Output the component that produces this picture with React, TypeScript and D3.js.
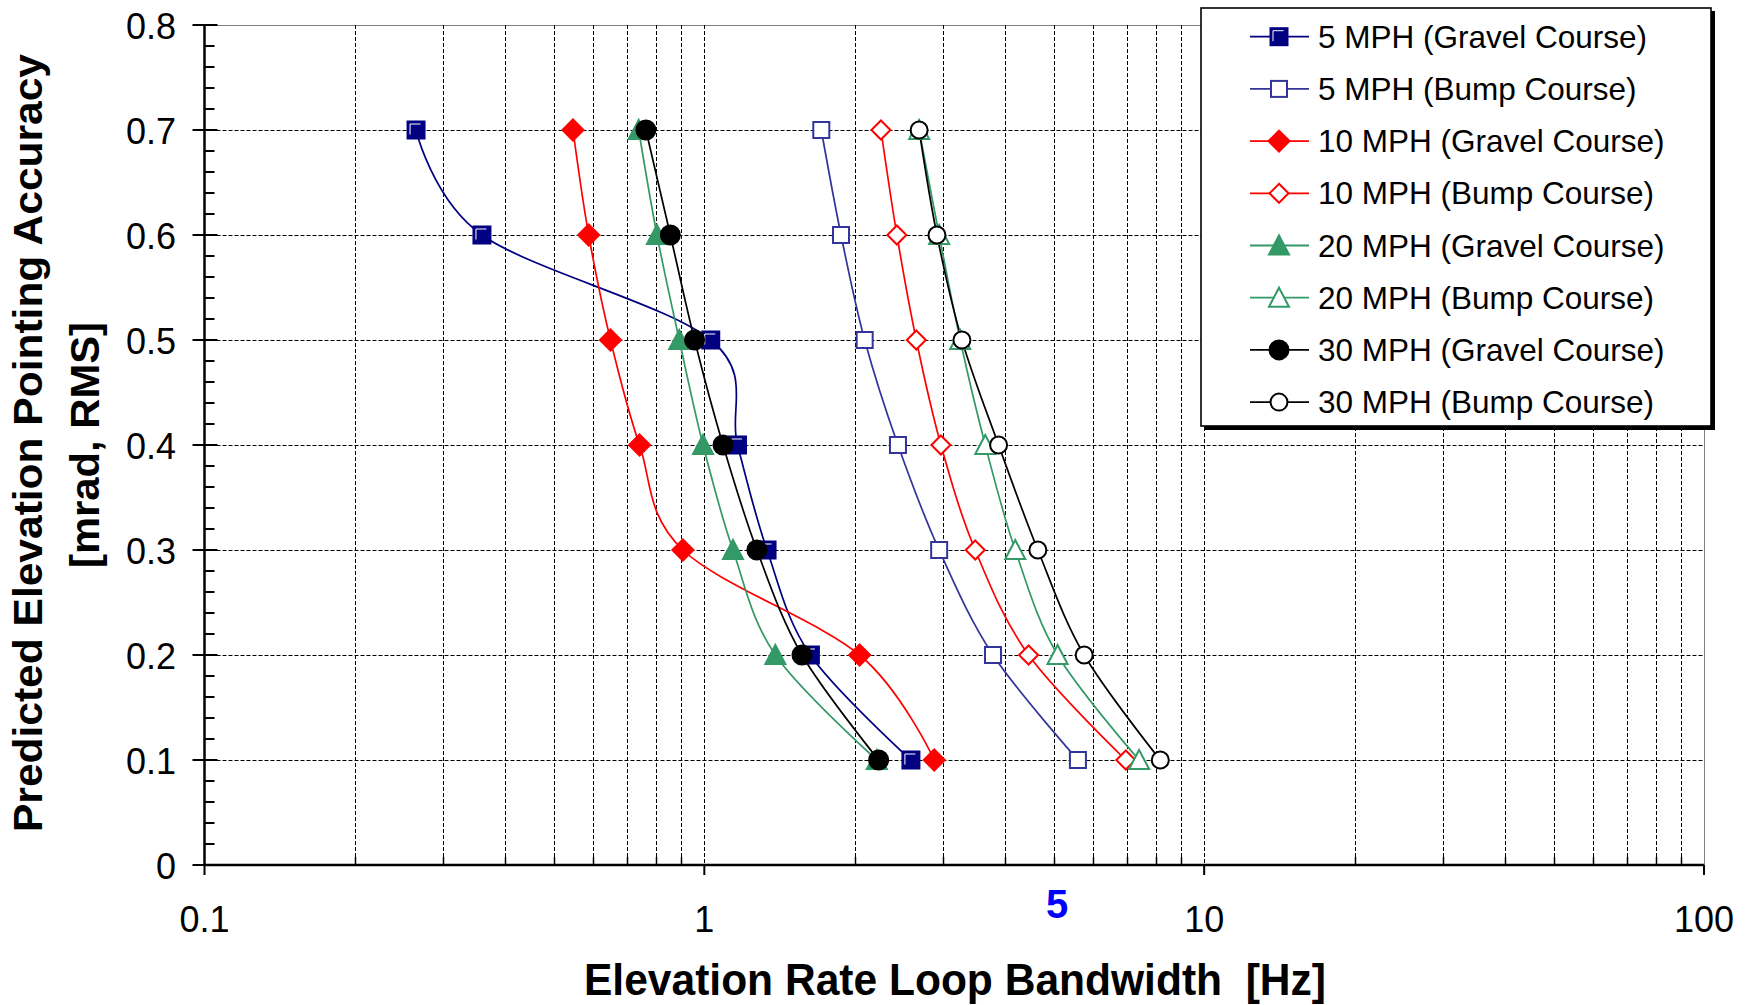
import React from "react";
import * as d3 from "d3";

// accuracy levels (y) shared by every series
const levels = [0.7, 0.6, 0.5, 0.4, 0.3, 0.2, 0.1];

// bandwidth (Hz) for each level
const gravel5 = [0.265, 0.359, 1.03, 1.165, 1.335, 1.63, 2.59];
const bump5 = [1.714, 1.877, 2.093, 2.44, 2.95, 3.78, 5.59];
const gravel10 = [0.546, 0.587, 0.649, 0.742, 0.906, 2.045, 2.884];
const bump10 = [2.256, 2.428, 2.655, 2.974, 3.483, 4.454, 6.97];
const gravel20 = [0.739, 0.804, 0.891, 0.994, 1.141, 1.387, 2.214];
const bump20 = [2.69, 2.95, 3.25, 3.648, 4.188, 5.09, 7.41];
const gravel30 = [0.764, 0.855, 0.956, 1.09, 1.274, 1.568, 2.232];
const bump30 = [2.69, 2.92, 3.276, 3.879, 4.648, 5.754, 8.17];

const seriesValues = [gravel5, bump5, gravel10, bump10, gravel20, bump20, gravel30, bump30];
const seriesNames = [
  "5 MPH (Gravel Course)",
  "5 MPH (Bump Course)",
  "10 MPH (Gravel Course)",
  "10 MPH (Bump Course)",
  "20 MPH (Gravel Course)",
  "20 MPH (Bump Course)",
  "30 MPH (Gravel Course)",
  "30 MPH (Bump Course)",
];
const seriesColors = ["#000080", "#333399", "#ff0000", "#ff0000", "#339966", "#339966", "#000000", "#000000"];
const seriesMarkers = ["square", "square", "diamond", "diamond", "triangle", "triangle", "circle", "circle"];
const seriesFilled = [true, false, true, false, true, false, true, false];

const xTickValues = [0.1, 1, 10, 100];
const xTickLabels = ["0.1", "1", "10", "100"];
const yTickValues = [0, 0.1, 0.2, 0.3, 0.4, 0.5, 0.6, 0.7, 0.8];
const yTickLabels = ["0", "0.1", "0.2", "0.3", "0.4", "0.5", "0.6", "0.7", "0.8"];

const FONT = "'Liberation Sans', Arial, Helvetica, sans-serif";

// snap a 1px line onto the pixel grid so it stays crisp and dark
const crisp = (v: number) => Math.round(v) + 0.5;

const Marker = ({ type, cx, cy, color, filled }: any) => {
  const fill = filled ? color : "#fff";
  if (type === "square") {
    const s = filled ? 17 : 16;
    return (
      <g>
        <rect x={cx - s / 2} y={cy - s / 2} width={s} height={s} fill={fill} stroke={color} strokeWidth={2} />
        {filled && (
          <path
            d={`M${cx - s / 2 + 2.5},${cy + s / 2 - 4} V${cy - s / 2 + 2.5} H${cx + s / 2 - 4}`}
            fill="none"
            stroke="#fff"
            strokeWidth={1}
          />
        )}
      </g>
    );
  }
  if (type === "diamond") {
    const r = filled ? 10.5 : 9.5;
    return (
      <path
        d={`M${cx},${cy - r} L${cx + r},${cy} L${cx},${cy + r} L${cx - r},${cy} Z`}
        fill={fill}
        stroke={color}
        strokeWidth={2}
      />
    );
  }
  if (type === "triangle") {
    const w = 20;
    const h = 18;
    return (
      <path
        d={`M${cx},${cy - h / 2 - 1} L${cx + w / 2},${cy + h / 2} L${cx - w / 2},${cy + h / 2} Z`}
        fill={fill}
        stroke={color}
        strokeWidth={2}
      />
    );
  }
  return <circle cx={cx} cy={cy} r={filled ? 9.5 : 8.5} fill={fill} stroke={color} strokeWidth={2} />;
};

export default function App() {
  const width = 1752;
  const height = 1005;
  const left = 204.5;
  const right = 1704;
  const top = 25;
  const bottom = 865;

  const x = d3.scaleLog().domain([0.1, 100]).range([left, right]);
  const y = d3.scaleLinear().domain([0, 0.8]).range([bottom, top]);

  const line = d3
    .line<[number, number]>()
    .x((d) => x(d[0]))
    .y((d) => y(d[1]))
    .curve(d3.curveCatmullRom.alpha(0));

  const minorX: number[] = [];
  [0.1, 1, 10].forEach((dec) => {
    for (let k = 2; k <= 9; k++) minorX.push(dec * k);
  });
  const gridX = minorX.concat([1, 10]);
  const minorY = d3.range(0, 41).map((i) => i * 0.02);

  const legendX = 1201;
  const legendY = 8;
  const legendW = 510;
  const legendH = 418;
  const rowY = (i: number) => 36.7 + i * 52.2;

  return (
    <svg
      width={width}
      height={height}
      style={{ position: "absolute", left: 0, top: 0, display: "block", background: "#fff" }}
      fontFamily={FONT}
    >
      <rect x={0} y={0} width={width} height={height} fill="#fff" />

      {/* plot frame (top and right, grey) */}
      <line x1={left} x2={right} y1={crisp(top)} y2={crisp(top)} stroke="#808080" strokeWidth={1} />
      <line x1={crisp(right)} x2={crisp(right)} y1={top} y2={bottom} stroke="#808080" strokeWidth={1} />

      {/* grid */}
      {gridX.map((v, i) => (
        <line
          key={"gx" + i}
          x1={crisp(x(v))}
          x2={crisp(x(v))}
          y1={top}
          y2={bottom}
          stroke="#000"
          strokeWidth={1}
          strokeDasharray="4,2"
        />
      ))}
      {yTickValues.slice(1, -1).map((v, i) => (
        <line
          key={"gy" + i}
          x1={left}
          x2={right}
          y1={crisp(y(v))}
          y2={crisp(y(v))}
          stroke="#000"
          strokeWidth={1}
          strokeDasharray="4,2"
        />
      ))}

      {/* axes */}
      <line x1={left} x2={right} y1={bottom} y2={bottom} stroke="#000" strokeWidth={2.5} />
      <line x1={left} x2={left} y1={top} y2={bottom} stroke="#000" strokeWidth={2.5} />
      {minorX.map((v, i) => (
        <line key={"mx" + i} x1={crisp(x(v))} x2={crisp(x(v))} y1={bottom} y2={bottom - 8} stroke="#000" strokeWidth={1.5} />
      ))}
      {xTickValues.map((v, i) => (
        <g key={"xt" + i}>
          <line x1={x(v)} x2={x(v)} y1={bottom} y2={bottom + 10} stroke="#000" strokeWidth={2} />
          <text x={x(v)} y={932} textAnchor="middle" fontSize={36} fill="#000">
            {xTickLabels[i]}
          </text>
        </g>
      ))}
      {minorY.map((v, i) => (
        <line key={"my" + i} x1={left} x2={left + 10} y1={y(v)} y2={y(v)} stroke="#000" strokeWidth={2} />
      ))}
      {yTickValues.map((v, i) => (
        <g key={"yt" + i}>
          <line x1={left - 12} x2={left + 13} y1={y(v)} y2={y(v)} stroke="#000" strokeWidth={2} />
          <text x={176} y={y(v) + 14} textAnchor="end" fontSize={36} fill="#000">
            {yTickLabels[i]}
          </text>
        </g>
      ))}

      {/* series lines */}
      {seriesValues.map((vals, si) => (
        <path
          key={"l" + si}
          d={line(vals.map((v, j) => [v, levels[j]] as [number, number])) || ""}
          fill="none"
          stroke={seriesColors[si]}
          strokeWidth={1.7}
        />
      ))}
      {/* markers */}
      {seriesValues.map((vals, si) => (
        <g key={"m" + si}>
          {vals.map((v, j) => (
            <Marker
              key={j}
              type={seriesMarkers[si]}
              cx={x(v)}
              cy={y(levels[j])}
              color={seriesColors[si]}
              filled={seriesFilled[si]}
            />
          ))}
        </g>
      ))}

      {/* annotation */}
      <text x={1057} y={918} textAnchor="middle" fontSize={40} fontWeight="bold" fill="#0000ff">
        5
      </text>

      {/* axis titles */}
      <text x={955} y={995} textAnchor="middle" fontSize={44} fontWeight="bold" textLength={742} lengthAdjust="spacingAndGlyphs">
        Elevation Rate Loop Bandwidth{"\u00a0\u00a0"}[Hz]
      </text>
      <text
        transform={`translate(42,443) rotate(-90)`}
        textAnchor="middle"
        fontSize={40}
        fontWeight="bold"
        textLength={778}
        lengthAdjust="spacingAndGlyphs"
      >
        Predicted Elevation Pointing Accuracy
      </text>
      <text
        transform={`translate(99,445) rotate(-90)`}
        textAnchor="middle"
        fontSize={40}
        fontWeight="bold"
        textLength={246}
        lengthAdjust="spacingAndGlyphs"
      >
        [mrad, RMS]
      </text>

      {/* legend */}
      <rect x={legendX + 3} y={legendY + 3} width={legendW + 1} height={legendH + 1} fill="#000" />
      <rect x={legendX} y={legendY} width={legendW} height={legendH} fill="#fff" stroke="#000" strokeWidth={1.6} />
      {seriesNames.map((name, i) => (
        <g key={"lg" + i}>
          <line x1={1250} x2={1309} y1={rowY(i)} y2={rowY(i)} stroke={seriesColors[i]} strokeWidth={1.8} />
          <Marker type={seriesMarkers[i]} cx={1279} cy={rowY(i)} color={seriesColors[i]} filled={seriesFilled[i]} />
          <text x={1318} y={rowY(i) + 11} fontSize={31.5} fill="#000">
            {name}
          </text>
        </g>
      ))}
    </svg>
  );
}
